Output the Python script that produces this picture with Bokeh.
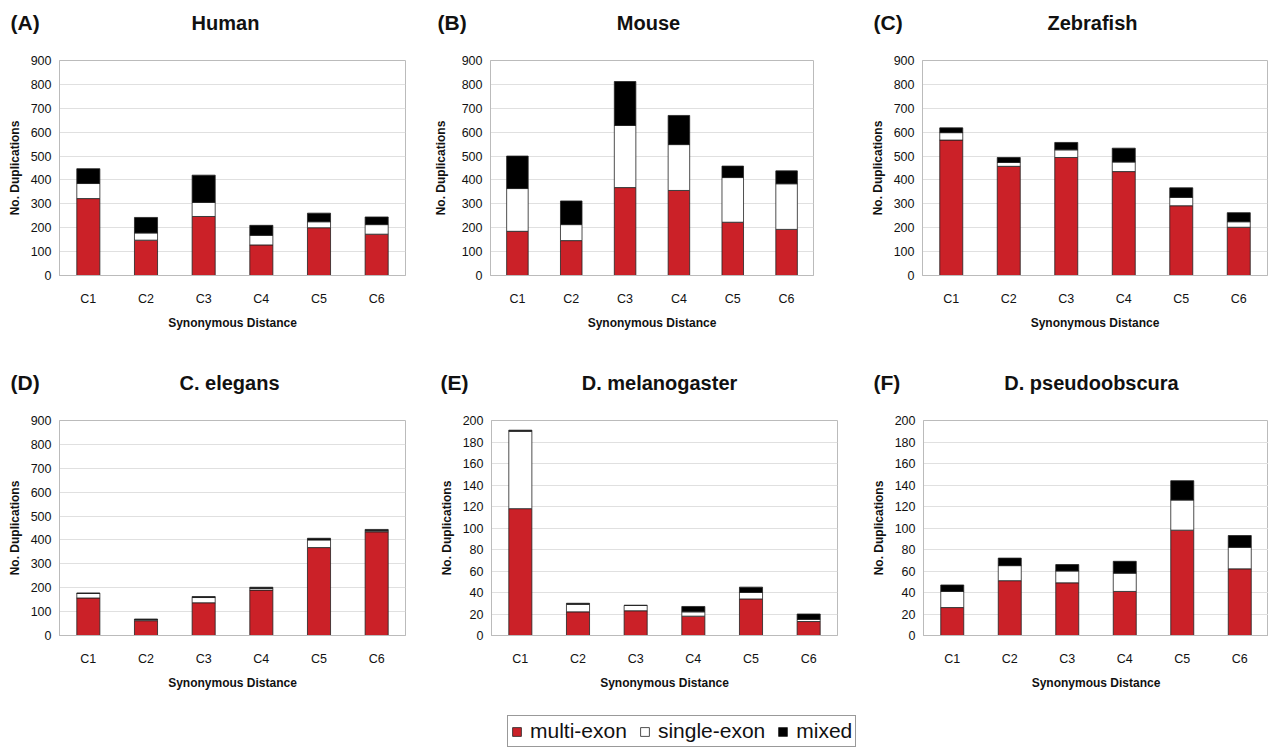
from bokeh.plotting import figure
from bokeh.models import ColumnDataSource, Range1d, FactorRange, Label, Legend, LegendItem, SingleIntervalTicker
from bokeh.layouts import row, column
from bokeh.embed import file_html
from bokeh.resources import INLINE

# ---------------- data ----------------
categories = ["C1", "C2", "C3", "C4", "C5", "C6"]
panel_letters = ["(A)", "(B)", "(C)", "(D)", "(E)", "(F)"]
species = ["Human", "Mouse", "Zebrafish", "C. elegans", "D. melanogaster", "D. pseudoobscura"]
stack_names = ["multi-exon", "single-exon", "mixed"]
y_max = [900, 900, 900, 900, 200, 200]
y_step = [100, 100, 100, 100, 20, 20]

human_multi = [322, 148, 247, 128, 200, 173]
human_single = [63, 30, 59, 40, 25, 40]
human_mixed = [62, 65, 114, 42, 36, 32]

mouse_multi = [185, 146, 368, 356, 223, 193]
mouse_single = [179, 67, 260, 192, 187, 191]
mouse_mixed = [136, 99, 184, 122, 48, 54]

zebrafish_multi = [567, 457, 494, 435, 292, 202]
zebrafish_single = [31, 16, 32, 40, 35, 23]
zebrafish_mixed = [20, 21, 31, 58, 40, 38]

celegans_multi = [157, 62, 137, 190, 368, 434]
celegans_single = [19, 4, 22, 7, 32, 4]
celegans_mixed = [2, 3, 4, 5, 7, 6]

dmel_multi = [118, 22, 23, 18, 34, 13]
dmel_single = [72, 7, 5, 4, 6, 2]
dmel_mixed = [1, 1, 0, 5, 5, 5]

dpse_multi = [26, 51, 49, 41, 98, 62]
dpse_single = [15, 14, 11, 17, 28, 20]
dpse_mixed = [6, 7, 6, 11, 18, 11]

series = [
    (human_multi, human_single, human_mixed),
    (mouse_multi, mouse_single, mouse_mixed),
    (zebrafish_multi, zebrafish_single, zebrafish_mixed),
    (celegans_multi, celegans_single, celegans_mixed),
    (dmel_multi, dmel_single, dmel_mixed),
    (dpse_multi, dpse_single, dpse_mixed),
]

# ---------------- styling / layout ----------------
RED = "#cb2128"
COLORS = [RED, "white", "black"]
FONT = "Liberation Sans"
TOTAL_W = 1268

# width, height, left, right, top, bottom, ylabel_standoff
geom = [
    (420, 292, 59, 15, 20, 51, 6),
    (420, 292, 70, 27, 20, 51, 11),
    (428, 292, 82, 1, 20, 51, 6),
    (420, 292, 59, 15, 20, 51, 6),
    (420, 292, 71, 3, 20, 51, 6),
    (428, 292, 83, 0, 20, 51, 6),
]
# header text positions: (letter left x, title center x)
header_pos = [(10, 225), (437, 648), (873, 1092), (10, 229), (440, 659), (873, 1091)]


def make_panel(i):
    w, h, l, r, t, b, ystand = geom[i]
    multi, single, mixed = series[i]
    src = ColumnDataSource(dict(cat=categories, multi=multi, single=single, mixed=mixed))
    p = figure(width=w, height=h, x_range=FactorRange(*categories),
               y_range=Range1d(0, y_max[i]), output_backend="svg",
               toolbar_location=None, min_border_left=l, min_border_right=r,
               min_border_top=t, min_border_bottom=b)
    p.vbar_stack(["multi", "single", "mixed"], x="cat", width=0.4, source=src,
                 fill_color=COLORS, line_color="#222222", line_width=0.8)
    p.outline_line_color = "#bbbbbb"
    p.xgrid.visible = False
    p.ygrid.ticker = SingleIntervalTicker(interval=y_step[i], num_minor_ticks=0)
    p.ygrid.grid_line_color = "#e0e0e0"
    p.yaxis.ticker = SingleIntervalTicker(interval=y_step[i], num_minor_ticks=0)
    p.yaxis.minor_tick_line_color = None
    p.yaxis.major_tick_in = 0
    p.yaxis.major_tick_out = 0
    p.yaxis.major_label_standoff = 8
    p.yaxis.axis_line_color = "#bbbbbb"
    p.xaxis.major_tick_line_color = None
    p.xaxis.major_label_standoff = 10
    p.xaxis.axis_line_color = "#bbbbbb"
    for ax in (p.xaxis, p.yaxis):
        ax.major_label_text_font = FONT
        ax.major_label_text_font_size = "12.5px"
        ax.major_label_text_color = "#111111"
        ax.axis_label_text_font = FONT
        ax.axis_label_text_font_size = "12px"
        ax.axis_label_text_font_style = "bold"
        ax.axis_label_text_color = "#111111"
    p.xaxis.axis_label = "Synonymous Distance"
    p.xaxis.axis_label_standoff = 7
    p.yaxis.axis_label = "No. Duplications"
    p.yaxis.axis_label_standoff = ystand
    return p


def make_header(height, text_y, idxs):
    hd = figure(width=TOTAL_W, height=height, x_range=Range1d(0, TOTAL_W),
                y_range=Range1d(0, height), output_backend="svg", toolbar_location=None,
                x_axis_type=None, y_axis_type=None, min_border=0, min_border_left=0,
                min_border_right=0, min_border_top=0, min_border_bottom=0)
    hd.outline_line_color = None
    hd.xgrid.visible = False
    hd.ygrid.visible = False
    for i in idxs:
        lx, tx = header_pos[i]
        hd.add_layout(Label(x=lx, y=text_y, text=panel_letters[i], text_font=FONT,
                            text_font_size="21px", text_font_style="bold",
                            text_baseline="middle", text_align="left", text_color="#111111"))
        hd.add_layout(Label(x=tx, y=text_y, text=species[i], text_font=FONT,
                            text_font_size="20px", text_font_style="bold",
                            text_baseline="middle", text_align="center", text_color="#111111"))
    return hd


panels = [make_panel(i) for i in range(6)]
header1 = make_header(40, 40 - 22, [0, 1, 2])
header2 = make_header(68, 400 - 382, [3, 4, 5])

# legend strip (dummy key glyphs hidden behind the opaque legend box)
LEG_H = 56
leg = figure(width=TOTAL_W, height=LEG_H, x_range=Range1d(0, 1), y_range=Range1d(0, 1),
             output_backend="svg", toolbar_location=None, x_axis_type=None, y_axis_type=None,
             min_border=0, min_border_left=0, min_border_right=0, min_border_top=0,
             min_border_bottom=0)
leg.outline_line_color = None
leg.xgrid.visible = False
leg.ygrid.visible = False
items = []
for name, col in zip(stack_names, COLORS):
    rr = leg.vbar(x=[0.5], bottom=[0.3], top=[0.45], width=0.0005, fill_color=col,
                  line_color="#222222", line_width=0.8)
    items.append(LegendItem(label=name, renderers=[rr]))
legend = Legend(items=items, orientation="horizontal", location=(507, 1),
                border_line_color="#333333", border_line_width=1, padding=3, spacing=12,
                label_standoff=8, glyph_width=11, glyph_height=11,
                label_text_font=FONT, label_text_font_size="21px", label_text_color="#111111",
                margin=0, background_fill_color="white", background_fill_alpha=1.0)
leg.add_layout(legend, "center")

layout = column(header1, row(*panels[:3]), header2, row(*panels[3:]), leg)

open("out.html", "w").write(file_html(layout, INLINE))
